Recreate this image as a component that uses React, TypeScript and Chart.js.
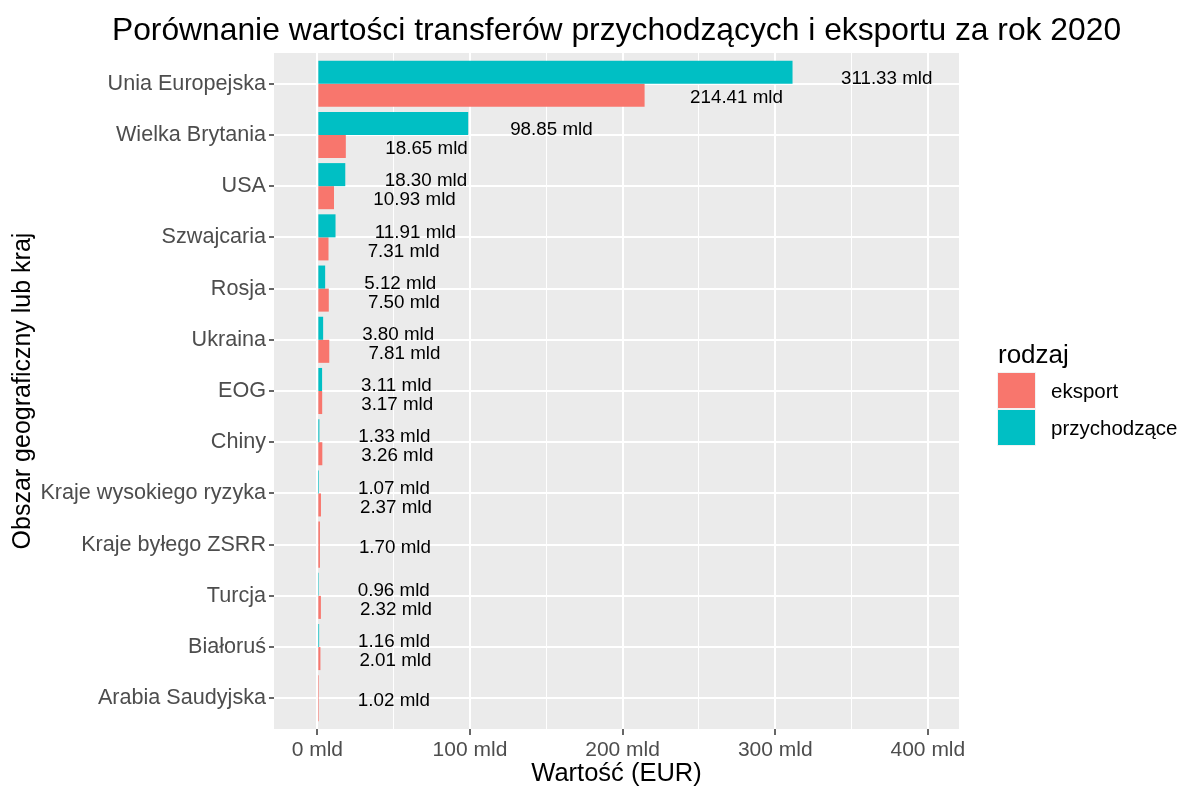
import React, { useEffect, useRef } from "react";
import { Chart, registerables } from "chart.js";

Chart.register(...registerables);

const categories = [
  "Unia Europejska",
  "Wielka Brytania",
  "USA",
  "Szwajcaria",
  "Rosja",
  "Ukraina",
  "EOG",
  "Chiny",
  "Kraje wysokiego ryzyka",
  "Kraje byłego ZSRR",
  "Turcja",
  "Białoruś",
  "Arabia Saudyjska",
];

const przychodzace: (number | null)[] = [
  311.33, 98.85, 18.3, 11.91, 5.12, 3.8, 3.11, 1.33, 1.07, null, 0.96, 1.16, null,
];

const eksport: (number | null)[] = [
  214.41, 18.65, 10.93, 7.31, 7.5, 7.81, 3.17, 3.26, 2.37, 1.7, 2.32, 2.01, 1.02,
];

const xTicks = [0, 50, 100, 150, 200, 250, 300, 350, 400];

const TITLE = "Porównanie wartości transferów przychodzących i eksportu za rok 2020";
const LEGEND_TITLE = "rodzaj";
const LEGEND_ITEMS = [
  { label: "eksport", color: "#F8766D" },
  { label: "przychodzące", color: "#00BFC4" },
];

const FONT = "'Liberation Sans', Arial, sans-serif";

const bgPlugin = {
  id: "panelBg",
  beforeDraw(chart: any) {
    const { ctx, chartArea } = chart;
    ctx.save();
    ctx.fillStyle = "#FFFFFF";
    ctx.fillRect(0, 0, chart.width, chart.height);
    ctx.fillStyle = "#EBEBEB";
    ctx.fillRect(chartArea.left, chartArea.top, chartArea.right - chartArea.left, chartArea.bottom - chartArea.top);
    ctx.restore();
  },
};

const labelPlugin = {
  id: "barLabels",
  afterDatasetsDraw(chart: any) {
    const { ctx } = chart;
    const xScale = chart.scales.x;
    ctx.save();
    ctx.font = `18.8px ${FONT}`;
    ctx.fillStyle = "#000000";
    ctx.textAlign = "left";
    ctx.textBaseline = "middle";
    chart.data.datasets.forEach((ds: any, di: number) => {
      const meta = chart.getDatasetMeta(di);
      ds.data.forEach((v: number | null, i: number) => {
        if (v === null || v === undefined) return;
        const el = meta.data[i];
        if (!el) return;
        const other = chart.data.datasets[1 - di].data[i];
        let dy = 3;
        if (other !== null && other !== undefined) dy = di === 0 ? 6.5 : 2.5;
        const x = xScale.getPixelForValue(v * 1.02 + 25.5);
        ctx.fillText(`${v.toFixed(2)} mld`, x, el.y + dy);
      });
    });
    ctx.restore();
  },
};

const decorPlugin = {
  id: "decor",
  afterDraw(chart: any) {
    const { ctx, chartArea } = chart;
    ctx.save();
    ctx.font = `31.8px ${FONT}`;
    ctx.fillStyle = "#000000";
    ctx.textAlign = "center";
    ctx.textBaseline = "middle";
    ctx.fillText(TITLE, (chartArea.left + chartArea.right) / 2, 31);
    const lx = 998;
    ctx.font = `26px ${FONT}`;
    ctx.textAlign = "left";
    ctx.fillText(LEGEND_TITLE, lx, 356);
    const keyW = 37;
    const keyH = 35;
    LEGEND_ITEMS.forEach((it, i) => {
      const y = 373 + i * 37;
      ctx.fillStyle = "#F2F2F2";
      ctx.fillRect(lx - 1, y - 1, keyW + 2, keyH + 2);
      ctx.fillStyle = it.color;
      ctx.fillRect(lx, y, keyW, keyH);
      ctx.fillStyle = "#000000";
      ctx.font = `20.5px ${FONT}`;
      ctx.fillText(it.label, 1051, y + keyH / 2 + 2);
    });
    ctx.restore();
  },
};

export default function App() {
  const ref = useRef<HTMLCanvasElement | null>(null);

  useEffect(() => {
    if (!ref.current) return;
    const chart = new Chart(ref.current, {
      type: "bar",
      data: {
        labels: categories,
        datasets: [
          {
            label: "przychodzące",
            data: przychodzace,
            backgroundColor: "#00BFC4",
            borderWidth: 0,
            skipNull: true,
            categoryPercentage: 0.9,
            barPercentage: 1.0,
          } as any,
          {
            label: "eksport",
            data: eksport,
            backgroundColor: "#F8766D",
            borderWidth: 0,
            skipNull: true,
            categoryPercentage: 0.9,
            barPercentage: 1.0,
          } as any,
        ],
      },
      options: {
        indexAxis: "y",
        animation: false,
        responsive: false,
        maintainAspectRatio: false,
        layout: { padding: { top: 53, right: 221, bottom: 0, left: 0 } },
        plugins: {
          legend: { display: false },
          title: { display: false },
          tooltip: { enabled: false },
        },
        scales: {
          x: {
            type: "linear",
            min: -28.4,
            max: 420.4,
            afterBuildTicks: (scale: any) => {
              scale.ticks = xTicks.map((v) => ({ value: v }));
            },
            afterFit: (scale: any) => {
              scale.height = 60;
            },
            border: { display: false },
            grid: {
              color: "#FFFFFF",
              lineWidth: (c: any) => (c.tick && c.tick.value % 100 === 0 ? 2 : 1),
              tickColor: (c: any) => (c.tick && c.tick.value % 100 === 0 ? "#333333" : "rgba(0,0,0,0)"),
              tickLength: 6,
              tickWidth: 1.5,
            } as any,
            ticks: {
              autoSkip: false,
              maxRotation: 0,
              padding: 3,
              color: "#4D4D4D",
              font: { family: FONT, size: 21 },
              callback: (v: any) => (Number(v) % 100 === 0 ? `${v} mld` : ""),
            },
            title: {
              display: true,
              text: "Wartość (EUR)",
              color: "#000000",
              font: { family: FONT, size: 25.5 },
              padding: { top: 0, bottom: 0 },
            },
          },
          y: {
            type: "category",
            offset: true,
            afterBuildTicks: (scale: any) => {
              const n = categories.length;
              scale._startValue = -0.6;
              scale._valueRange = n - 1 + 1.2;
            },
            afterFit: (scale: any) => {
              scale.width = 274;
            },
            border: { display: false },
            grid: {
              offset: false,
              color: "#FFFFFF",
              lineWidth: 2,
              tickColor: "#333333",
              tickLength: 5,
              tickWidth: 1.5,
            } as any,
            ticks: {
              autoSkip: false,
              padding: 3,
              color: "#4D4D4D",
              font: { family: FONT, size: 21.6 },
            },
            title: {
              display: true,
              text: "Obszar geograficzny lub kraj",
              color: "#000000",
              font: { family: FONT, size: 25 },
              padding: { top: 8, bottom: 0 },
            },
          },
        },
      },
      plugins: [bgPlugin, labelPlugin, decorPlugin],
    });
    return () => chart.destroy();
  }, []);

  return (
    <div style={{ position: "fixed", left: 0, top: 0, width: 1180, height: 789, background: "#fff" }}>
      <canvas ref={ref} width={1180} height={789} style={{ width: 1180, height: 789, display: "block" }} />
    </div>
  );
}
